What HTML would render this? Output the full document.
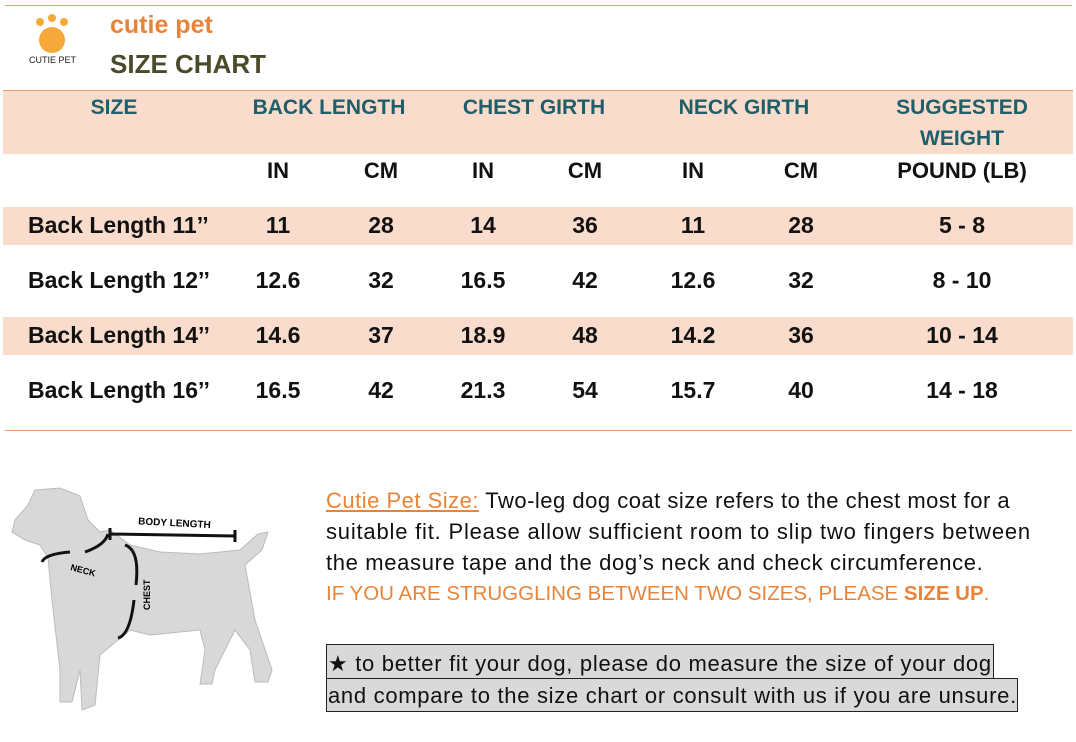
<!DOCTYPE html>
<html><head><style>
body{margin:0;width:1076px;height:742px;background:#fff;position:relative;overflow:hidden;font-family:"Liberation Sans",sans-serif;}
.a{position:absolute;white-space:nowrap}
.c{transform:translateX(-50%)}
.h{color:#1f5f6b;font-weight:bold;font-size:21px}
.b{color:#111;font-weight:bold;font-size:22px}
.d{color:#111;font-weight:bold;font-size:23px;margin-top:-2px}
.p{font-size:22px;color:#111;letter-spacing:0.7px}
</style></head><body>
<div class="a" style="left:5px;top:5px;width:1067px;height:1px;background:#e0a070"></div>
<svg class="a" style="left:30px;top:12px" width="50" height="48">
<circle cx="22" cy="28" r="13" fill="#f5a93a"/><circle cx="10" cy="10" r="4" fill="#f5a93a"/><circle cx="22" cy="6" r="4" fill="#f5a93a"/><circle cx="34" cy="10" r="4" fill="#f5a93a"/></svg>
<div class="a" style="left:29px;top:55px;font-size:9px;color:#222">CUTIE PET</div>
<div class="a" style="left:110px;top:11px;font-size:25px;font-weight:bold;color:#e8843a">cutie pet</div>
<div class="a" style="left:110px;top:49px;font-size:26px;font-weight:bold;color:#4b4a2a">SIZE CHART</div>
<div class="a" style="left:3px;top:90px;width:1070px;height:63px;background:#f9dccb;border-top:1px solid #e0a070"></div>
<div class="a h c" style="left:114px;top:96px">SIZE</div>
<div class="a h c" style="left:329px;top:96px">BACK LENGTH</div>
<div class="a h c" style="left:534px;top:96px">CHEST GIRTH</div>
<div class="a h c" style="left:744px;top:96px">NECK GIRTH</div>
<div class="a h c" style="left:962px;top:96px">SUGGESTED</div>
<div class="a h c" style="left:962px;top:127px">WEIGHT</div>
<div class="a b c" style="left:278px;top:158px">IN</div>
<div class="a b c" style="left:381px;top:158px">CM</div>
<div class="a b c" style="left:483px;top:158px">IN</div>
<div class="a b c" style="left:585px;top:158px">CM</div>
<div class="a b c" style="left:693px;top:158px">IN</div>
<div class="a b c" style="left:801px;top:158px">CM</div>
<div class="a b c" style="left:962px;top:158px">POUND (LB)</div>
<div class="a" style="left:3px;top:207px;width:1070px;height:38px;background:#f9dccb"></div>
<div class="a" style="left:3px;top:317px;width:1070px;height:38px;background:#f9dccb"></div>
<div class="a d" style="left:28px;top:214px">Back Length 11’’</div>
<div class="a d" style="left:28px;top:269px">Back Length 12’’</div>
<div class="a d" style="left:28px;top:324px">Back Length 14’’</div>
<div class="a d" style="left:28px;top:379px">Back Length 16’’</div>
<div class="a d c" style="left:278px;top:214px">11</div><div class="a d c" style="left:381px;top:214px">28</div><div class="a d c" style="left:483px;top:214px">14</div><div class="a d c" style="left:585px;top:214px">36</div><div class="a d c" style="left:693px;top:214px">11</div><div class="a d c" style="left:801px;top:214px">28</div><div class="a d c" style="left:962px;top:214px">5 - 8</div>
<div class="a d c" style="left:278px;top:269px">12.6</div><div class="a d c" style="left:381px;top:269px">32</div><div class="a d c" style="left:483px;top:269px">16.5</div><div class="a d c" style="left:585px;top:269px">42</div><div class="a d c" style="left:693px;top:269px">12.6</div><div class="a d c" style="left:801px;top:269px">32</div><div class="a d c" style="left:962px;top:269px">8 - 10</div>
<div class="a d c" style="left:278px;top:324px">14.6</div><div class="a d c" style="left:381px;top:324px">37</div><div class="a d c" style="left:483px;top:324px">18.9</div><div class="a d c" style="left:585px;top:324px">48</div><div class="a d c" style="left:693px;top:324px">14.2</div><div class="a d c" style="left:801px;top:324px">36</div><div class="a d c" style="left:962px;top:324px">10 - 14</div>
<div class="a d c" style="left:278px;top:379px">16.5</div><div class="a d c" style="left:381px;top:379px">42</div><div class="a d c" style="left:483px;top:379px">21.3</div><div class="a d c" style="left:585px;top:379px">54</div><div class="a d c" style="left:693px;top:379px">15.7</div><div class="a d c" style="left:801px;top:379px">40</div><div class="a d c" style="left:962px;top:379px">14 - 18</div>
<div class="a" style="left:5px;top:430px;width:1067px;height:1px;background:#e0a070"></div>
<svg class="a" style="left:0;top:470px" width="320" height="272">
<path d="M35 20 L60 18 L80 26 L88 50 L100 62 L110 60 L130 75 L160 82 L200 84 L240 80 L258 64 L268 62 L262 80 L245 95 L255 150 L272 200 L268 212 L255 212 L250 180 L235 160 L215 200 L212 214 L200 214 L205 180 L200 160 L150 165 L130 160 L100 185 L95 235 L82 240 L80 200 L72 232 L60 232 L60 200 L52 130 L48 88 L40 75 L25 70 L12 62 L15 50 L28 35 Z" fill="#d8d8d8" stroke="#bbb"/>
<path d="M110 58 L110 70 M110 64 L235 66 M235 60 L235 72" stroke="#111" stroke-width="3" fill="none"/>
<text x="138" y="56" font-size="10" font-weight="bold" font-family="Liberation Sans" transform="rotate(3 170 56)">BODY LENGTH</text>
<path d="M42 92 Q45 84 70 82 M108 64 Q105 75 85 82" stroke="#111" stroke-width="3" fill="none"/>
<text x="70" y="100" font-size="9" font-weight="bold" font-family="Liberation Sans" transform="rotate(15 70 100)">NECK</text>
<path d="M125 75 Q140 80 136 115 M134 130 Q130 165 118 168" stroke="#111" stroke-width="3" fill="none"/>
<text x="150" y="140" font-size="9" font-weight="bold" font-family="Liberation Sans" transform="rotate(-90 150 140)">CHEST</text>
</svg>
<div class="a p" style="left:326px;top:488px;letter-spacing:0.5px"><span style="color:#e8843a;text-decoration:underline">Cutie Pet Size:</span> Two-leg dog coat size refers to the chest most for a</div>
<div class="a p" style="left:326px;top:519px;letter-spacing:0.8px">suitable fit. Please allow sufficient room to slip two fingers between</div>
<div class="a p" style="left:326px;top:550px;letter-spacing:0.65px">the measure tape and the dog’s neck and check circumference.</div>
<div class="a p" style="left:326px;top:582px;color:#e8843a;font-size:20.5px;letter-spacing:0">IF YOU ARE STRUGGLING BETWEEN TWO SIZES, PLEASE <b>SIZE UP</b>.</div>
<div class="a" style="left:326px;top:644px;width:666px;height:34px;background:#d9d9d9;border:1px solid #222"></div>
<div class="a" style="left:326px;top:678px;width:690px;height:32px;background:#d9d9d9;border:1px solid #222"></div>
<div class="a p" style="left:328px;top:651px">★ to better fit your dog, please do measure the size of your dog</div>
<div class="a p" style="left:328px;top:683px">and compare to the size chart or consult with us if you are unsure.</div>
</body></html>
